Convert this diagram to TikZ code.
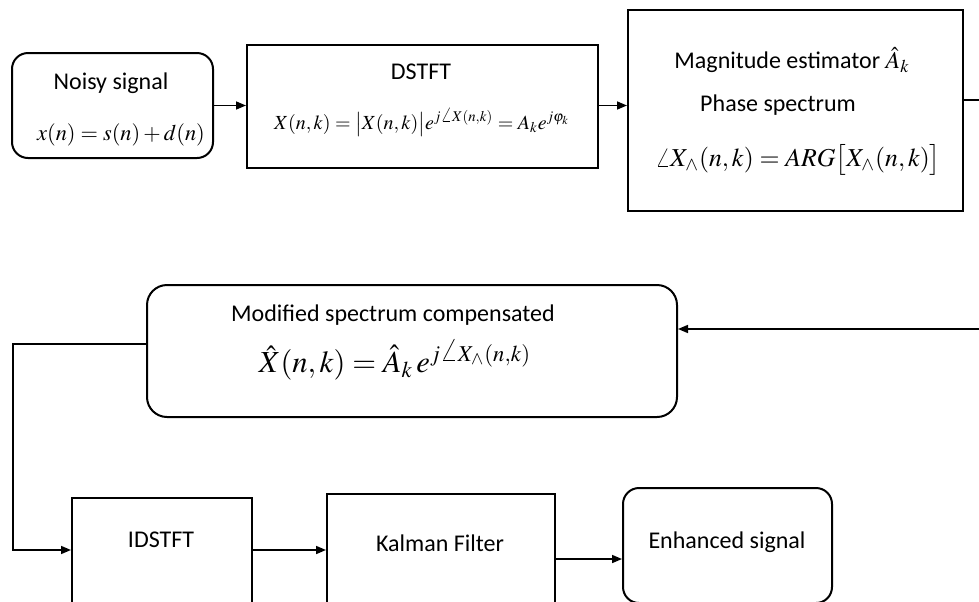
\documentclass[tikz,border=0pt]{standalone}
\usepackage{mathptmx}
\usepackage[no-math]{fontspec}
\setmainfont{Carlito}
\usetikzlibrary{arrows.meta}
\begin{document}
\begin{tikzpicture}[x=0.5pt,y=-0.5pt,line width=0.8pt,>={Triangle[length=5pt,width=4pt]},
    every node/.style={font=\fontsize{12}{14}\selectfont},
    block node/.style={draw,line width=1pt,inner sep=0pt},
    round node/.style={block node,rounded corners=8pt},
    label node/.style={inner sep=1pt}]
                \useasboundingbox (0,0) rectangle (979,601);
                \clip (0,0) rectangle (979,601);
                % boxes
                \node[round node,minimum width=100.5pt,minimum height=52.5pt] at (112.5,105.5) (noisy) {};
                \node[block node,minimum width=175.5pt,minimum height=61.5pt] at (422.5,106.5) (dstft) {};
                \node[block node,minimum width=167.5pt,minimum height=100.5pt] at (795.5,110.5) (mag) {};
                \node[round node,rounded corners=10pt,minimum width=265pt,minimum height=66pt] at (412,351) (modif) {};
                \node[block node,minimum width=90pt,minimum height=71pt] at (162,569) (idstft) {};
                \node[block node,minimum width=114pt,minimum height=73pt] at (441,567) (kalman) {};
                \node[round node,minimum width=104.5pt,minimum height=57.5pt] at (727.5,545.5) (enh) {};

                % texts
                \node[label node] at (111,83) (noisyt) {Noisy signal};
                \node[label node,font=\fontsize{11.2}{13}\selectfont] at (121,135) (noisym) {$x(n)=s(n)+d(n)$};
                \node[label node] at (421,72) (dstftt) {DSTFT};
                \node[label node,font=\fontsize{10}{12}\selectfont] at (422,122) (dstftm) {$X(n,k)=\bigl|X(n,k)\bigr|e^{j\angle X(n,k)}=A_k e^{j\varphi_k}$};
                \node[label node] at (792,60) (magt) {Magnitude estimator $\hat{A}_k$};
                \node[label node] at (778,105) (phaset) {Phase spectrum};
                \node[label node,font=\fontsize{12.9}{15}\selectfont] at (798,160) (phasem) {$\angle X_{\wedge}(n,k)=ARG\bigl[X_{\wedge}(n,k)\bigr]$};
                \node[label node] at (393,315) (modift) {Modified spectrum compensated};
                \node[label node,font=\fontsize{15.3}{18}\selectfont] at (395,360) (modifm) {$\hat{X}(n,k)=\hat{A}_k\,e^{j\angle X_{\wedge}(n,k)}$};
                \node[label node] at (161,540) (idstftt) {IDSTFT};
                \node[label node] at (440,543) (kalmant) {Kalman Filter};
                \node[label node] at (727,542) (enht) {Enhanced signal};

                % connectors
                \coordinate (rtop) at (1000,100);
                \coordinate (rbot) at (1000,329);
                \coordinate (ltop) at (13,344);
                \coordinate (lbot) at (13,550);
                \path[->] (noisy.east) edge (noisy.east -| dstft.west);
                \path[->] (dstft.east |- noisy.east) edge (noisy.east -| mag.west);
                \draw[->] ([yshift=5.25pt]mag.east) -- (rtop) -- (rbot) -- (modif.east |- rbot);
                \draw[->] ([yshift=3.5pt]modif.west) -- (ltop) -- (lbot) -- (idstft.west |- lbot);
                \path[->] (idstft.east |- lbot) edge (kalman.west |- lbot);
                \path[->] ([yshift=4pt]kalman.east) edge ([yshift=4pt]kalman.east -| enh.west);
            \end{tikzpicture}
\end{document}
